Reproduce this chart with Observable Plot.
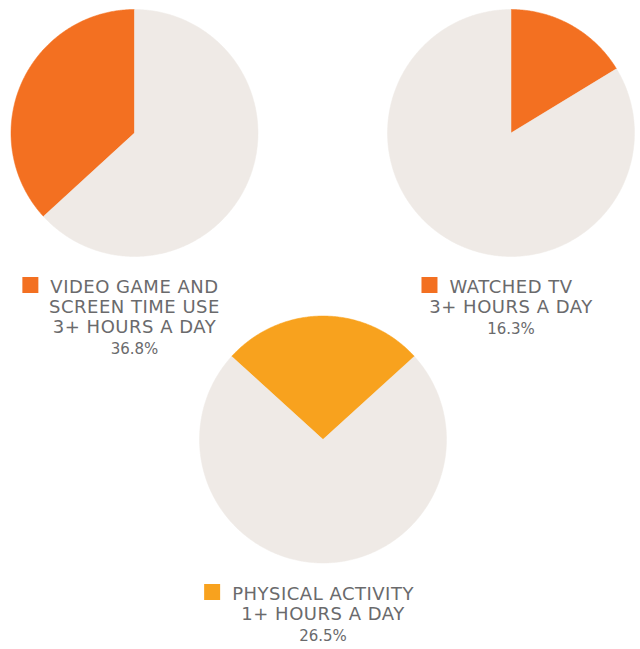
<!DOCTYPE html>
<html>
<head>
<meta charset="utf-8">
<script src="https://cdn.jsdelivr.net/npm/d3@7"></script>
<script src="https://cdn.jsdelivr.net/npm/@observablehq/plot@0.6"></script>
<style>
  html, body { margin: 0; padding: 0; background: #ffffff; }
  #chart svg { display: block; }
</style>
</head>
<body>
<div id="chart"></div>
<script>
// ---- data ----
const labelLines = [
  ["VIDEO GAME AND", "SCREEN TIME USE", "3+ HOURS A DAY"],
  ["WATCHED TV", "3+ HOURS A DAY"],
  ["PHYSICAL ACTIVITY", "1+ HOURS A DAY"]
];
const values = [36.8, 16.3, 26.5];
const valueLabels = ["36.8%", "16.3%", "26.5%"];
const sliceColors = ["#F37021", "#F37021", "#F8A21E"];
const restColor = "#EFEAE6";
const textColor = "#6A6A6C";

// ---- layout ----
const W = 640, H = 649;
const centers = [[134, 132.5], [510.5, 132.5], [322.5, 439]];
const radius = 123.5;
// where the highlighted slice begins, as a fraction of the slice (0 = clockwise from 12, 1 = counter-clockwise)
const startShift = [1, 0, 0.5];
const labelTop = [292, 292, 599];
const lineStep = 20;
const spacing = 0.5;

// polygon points for slices
function arcPoints(cx, cy, r, a0, a1, id) {
  const pts = [{id, x: cx, y: cy}];
  const n = Math.max(2, Math.ceil(Math.abs(a1 - a0) / (Math.PI / 360)));
  for (let i = 0; i <= n; i++) {
    const a = a0 + (a1 - a0) * i / n;
    pts.push({id, x: cx + r * Math.sin(a), y: cy - r * Math.cos(a)});
  }
  pts.push({id, x: cx, y: cy});
  return pts;
}
const slices = [];
values.forEach((v, i) => {
  const [cx, cy] = centers[i];
  const span = v / 100 * 2 * Math.PI;
  const s0 = -span * startShift[i];
  const s1 = s0 + span;
  slices.push({id: `h${i}`, fill: sliceColors[i], pts: arcPoints(cx, cy, radius, s0, s1, `h${i}`)});
  slices.push({id: `r${i}`, fill: restColor, pts: arcPoints(cx, cy, radius, s1, s0 + 2 * Math.PI, `r${i}`)});
});
const slicePts = slices.flatMap(s => s.pts.map(p => ({...p, fill: s.fill})));

// text
const font = "'DejaVu Sans', sans-serif";
const ctx = document.createElement("canvas").getContext("2d");
ctx.font = `18px ${font}`;
const texts = [], pcts = [], squares = [];
labelLines.forEach((lines, i) => {
  const cx = centers[i][0];
  lines.forEach((t, j) => texts.push({x: cx, y: labelTop[i] + j * lineStep, t}));
  pcts.push({x: cx, y: labelTop[i] + (lines.length - 1) * lineStep + 21, t: valueLabels[i]});
  const w = ctx.measureText(lines[0]).width + spacing * lines[0].length;
  squares.push({x: cx - w / 2 - 12 - 8, y: labelTop[i] - 7.5, fill: sliceColors[i]});
});

const chart = Plot.plot({
  width: W,
  height: H,
  margin: 0,
  x: {domain: [0, W], range: [0, W], axis: null},
  y: {domain: [0, H], range: [0, H], axis: null},
  style: {background: "#ffffff", fontFamily: font},
  marks: [
    Plot.line(slicePts, {x: "x", y: "y", z: "id", fill: "fill", stroke: "fill", strokeWidth: 0.5, curve: "linear"}),
    Plot.dot(squares, {x: "x", y: "y", fill: "fill", symbol: "square", r: 16 / Math.sqrt(Math.PI), stroke: null}),
    Plot.text(texts, {x: "x", y: "y", text: "t", fill: textColor, fontSize: 18, textAnchor: "middle", lineAnchor: "bottom"}),
    Plot.text(pcts, {x: "x", y: "y", text: "t", fill: textColor, fontSize: 15, textAnchor: "middle", lineAnchor: "bottom"})
  ]
});
chart.querySelectorAll("text").forEach(t => {
  const holder = t.closest("[font-size]");
  if (holder && holder.getAttribute("font-size") === "18") t.style.letterSpacing = spacing + "px";
});
document.getElementById("chart").append(chart);
</script>
</body>
</html>
